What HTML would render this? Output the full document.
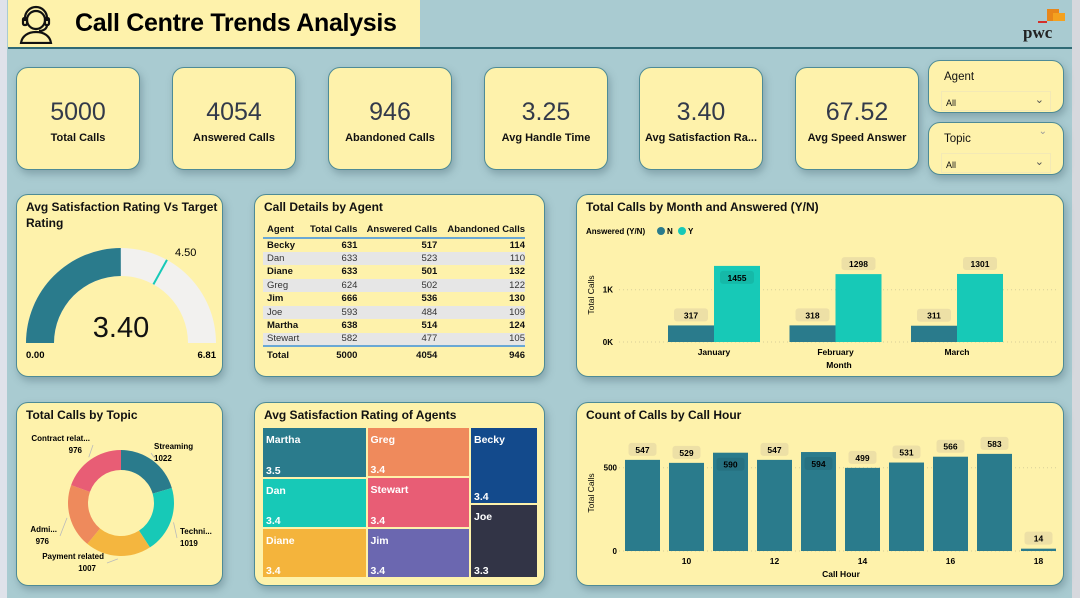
<!DOCTYPE html>
<html><head><meta charset="utf-8">
<style>
*{box-sizing:border-box;margin:0;padding:0}
body{width:1080px;height:598px;background:#a9cbd1;font-family:"Liberation Sans",sans-serif;position:relative;overflow:hidden;color:#111}
.abs{position:absolute}
.card{position:absolute;background:#fef2ab;border:1px solid #4e8b96;border-radius:12px;box-shadow:2px 4px 8px rgba(60,90,100,.35)}
.kpi .v{position:absolute;left:0;right:0;top:30px;text-align:center;font-size:25px;color:#333a4a}
.kpi .l{position:absolute;left:0;right:0;top:64px;text-align:center;font-size:11px;font-weight:bold;color:#111;white-space:nowrap}
.ct{position:absolute;left:9px;top:5px;font-size:12px;font-weight:bold;color:#111;white-space:nowrap}
svg text{font-family:"Liberation Sans",sans-serif}
table{border-collapse:collapse;font-size:9.5px}
</style></head><body>
<div class="abs" style="left:0;top:0;width:7px;height:598px;background:#dfe2ea"></div>
<div class="abs" style="left:1072px;top:0;width:8px;height:598px;background:#d6d8dd"></div>
<div class="abs" style="left:8px;top:0;width:412px;height:47px;background:#fef2ab">
<svg class="abs" style="left:8px;top:4px" width="40" height="40" viewBox="0 0 40 40" fill="none" stroke="#111" stroke-width="2.2"><circle cx="20" cy="16" r="9"/><path d="M9 17v-3a11 11 0 0 1 22 0v3"/><rect x="7" y="14" width="4" height="7" rx="1.5"/><rect x="29" y="14" width="4" height="7" rx="1.5"/><path d="M31 21c0 4-4 6-8 6"/><path d="M5 39c1-7 7-11 15-11s14 4 15 11z"/></svg>
<div class="abs" style="left:67px;top:9px;font-size:25px;font-weight:bold;color:#000;white-space:nowrap;letter-spacing:-0.3px">Call Centre Trends Analysis</div>
</div>
<div class="abs" style="left:8px;top:47px;width:1064px;height:2px;background:#2f6a75"></div>
<div class="abs" style="left:1020px;top:4px;width:50px;height:40px">
<div class="abs" style="left:27px;top:5px;width:12px;height:12px;background:#e8861a"></div>
<div class="abs" style="left:33px;top:9px;width:12px;height:8px;background:#f4a11f"></div>
<div class="abs" style="left:18px;top:17px;width:9px;height:2px;background:#d4302a"></div>
<div class="abs" style="left:3px;top:19px;font-family:'Liberation Serif',serif;font-weight:bold;font-size:17px;color:#222">pwc</div>
</div>

<div class="card kpi" style="left:16px;top:67px;width:124px;height:103px"><div class="v">5000</div><div class="l">Total Calls</div></div>
<div class="card kpi" style="left:172px;top:67px;width:124px;height:103px"><div class="v">4054</div><div class="l">Answered Calls</div></div>
<div class="card kpi" style="left:328px;top:67px;width:124px;height:103px"><div class="v">946</div><div class="l">Abandoned Calls</div></div>
<div class="card kpi" style="left:484px;top:67px;width:124px;height:103px"><div class="v">3.25</div><div class="l">Avg Handle Time</div></div>
<div class="card kpi" style="left:639px;top:67px;width:124px;height:103px"><div class="v">3.40</div><div class="l">Avg Satisfaction Ra...</div></div>
<div class="card kpi" style="left:795px;top:67px;width:124px;height:103px"><div class="v">67.52</div><div class="l">Avg Speed Answer</div></div>

<div class="card" style="left:928px;top:60px;width:136px;height:53px">
<div class="abs" style="left:15px;top:10px;font-size:11.5px">Agent</div>
<div class="abs" style="left:12px;top:30px;width:110px;height:20px;border:1px solid #f3e9b5;font-size:9px;padding:6px 4px">All<span class="abs" style="right:6px;top:1px;font-size:11px;color:#555">&#8964;</span></div>
</div>
<div class="card" style="left:928px;top:122px;width:136px;height:53px">
<div class="abs" style="left:15px;top:10px;font-size:11.5px">Topic</div>
<div class="abs" style="right:16px;top:3px;font-size:10px;color:#999">&#8964;</div>
<div class="abs" style="left:12px;top:30px;width:110px;height:20px;border:1px solid #f3e9b5;font-size:9px;padding:6px 4px">All<span class="abs" style="right:6px;top:1px;font-size:11px;color:#555">&#8964;</span></div>
</div>

<!-- Gauge -->
<div class="card" style="left:16px;top:194px;width:207px;height:183px">
<div class="ct" style="line-height:16px;top:4px">Avg Satisfaction Rating Vs Target<br>Rating</div>
<svg class="abs" style="left:0;top:0" width="207" height="183" id="gauge"></svg>
</div>

<!-- Table -->
<div class="card" style="left:254px;top:194px;width:291px;height:183px">
<div class="ct">Call Details by Agent</div>
<table class="abs" style="left:8px;top:26px;width:262px">
<thead><tr style="font-weight:bold;height:17px;border-bottom:2px solid #6aa8d4"><td style="padding-left:4px">Agent</td><td style="text-align:right">Total Calls</td><td style="text-align:right">Answered Calls</td><td style="text-align:right">Abandoned Calls</td></tr></thead>
<tbody id="tbody"></tbody>
<tfoot><tr style="font-weight:bold;height:17px;border-top:2px solid #6aa8d4"><td style="padding-left:4px">Total</td><td style="text-align:right">5000</td><td style="text-align:right">4054</td><td style="text-align:right">946</td></tr></tfoot>
</table>
</div>

<!-- Month chart -->
<div class="card" style="left:576px;top:194px;width:488px;height:183px">
<div class="ct">Total Calls by Month and Answered (Y/N)</div>
<svg class="abs" style="left:0;top:0" width="488" height="183" id="month"></svg>
</div>

<!-- Donut -->
<div class="card" style="left:16px;top:402px;width:207px;height:184px">
<div class="ct">Total Calls by Topic</div>
<svg class="abs" style="left:0;top:0" width="207" height="184" id="donut"></svg>
</div>

<!-- Treemap -->
<div class="card" style="left:254px;top:402px;width:291px;height:184px">
<div class="ct">Avg Satisfaction Rating of Agents</div>
<div class="abs" id="tree" style="left:8px;top:25px;width:276px;height:151px"></div>
</div>

<!-- Hour chart -->
<div class="card" style="left:576px;top:402px;width:488px;height:184px">
<div class="ct">Count of Calls by Call Hour</div>
<svg class="abs" style="left:0;top:0" width="488" height="184" id="hour"></svg>
</div>

<script>
const NS='http://www.w3.org/2000/svg';
function mk(p,tag,a,txt){const e=document.createElementNS(NS,tag);for(const k in a)e.setAttribute(k,a[k]);if(txt!==undefined)e.textContent=txt;p.appendChild(e);return e;}

// Gauge data
const gaugeValue=3.40, gaugeMin=0, gaugeMax=6.81, gaugeTarget=4.50;
(function(){
const s=document.getElementById('gauge');const cx=104,cy=148,R=95,r=67;
function pt(f,rad){const a=Math.PI*(1-f);return [cx+rad*Math.cos(a),cy-rad*Math.sin(a)];}
function arc(f0,f1,col,name){const[a,b]=pt(f0,R),[c,d]=pt(f1,R),[e,f]=pt(f1,r),[g,h]=pt(f0,r);
const p=mk(s,'path',{d:`M${a},${b} A${R},${R} 0 0 1 ${c},${d} L${e},${f} A${r},${r} 0 0 0 ${g},${h}Z`,fill:col});
}
arc(0,1,'#f2f1ef','gauge-track');
arc(0,(gaugeValue-gaugeMin)/(gaugeMax-gaugeMin),'#2a7b8c','gauge-fill');
const tf=(gaugeTarget-gaugeMin)/(gaugeMax-gaugeMin);const[x1,y1]=pt(tf,r),[x2,y2]=pt(tf,R);
const tl=mk(s,'line',{x1,y1,x2,y2,stroke:'#17c9b7','stroke-width':2});

mk(s,'text',{x:x2+8,y:y2-4,'font-size':11},gaugeTarget.toFixed(2));
mk(s,'text',{x:cx,y:cy-6,'text-anchor':'middle','font-size':29,fill:'#111'},gaugeValue.toFixed(2));
mk(s,'text',{x:9,y:cy+15,'font-size':9.5,'font-weight':'bold'},gaugeMin.toFixed(2));
mk(s,'text',{x:199,y:cy+15,'font-size':9.5,'font-weight':'bold','text-anchor':'end'},gaugeMax.toFixed(2));
})();

// Table data
const agents=['Becky','Dan','Diane','Greg','Jim','Joe','Martha','Stewart'];
const agentTotal=[631,633,633,624,666,593,638,582];
const agentAnswered=[517,523,501,502,536,484,514,477];
const agentAbandoned=[114,110,132,122,130,109,124,105];
(function(){const tb=document.getElementById('tbody');
agents.forEach((a,i)=>{const tr=document.createElement('tr');


tr.style.height='13.5px';tr.style.background=i%2?'#e6e6e6':'transparent';tr.style.fontWeight=i%2?'normal':'bold';tr.style.color=i%2?'#333':'#111';
tr.innerHTML=`<td style="padding-left:4px">${a}</td><td style="text-align:right">${agentTotal[i]}</td><td style="text-align:right">${agentAnswered[i]}</td><td style="text-align:right">${agentAbandoned[i]}</td>`;
tb.appendChild(tr);});})();

// Month chart data
const months=['January','February','March'];
const monthN=[317,318,311];
const monthY=[1455,1298,1301];
const monthTicks=[0,1000];const monthTickLabels=['0K','1K'];
(function(){const s=document.getElementById('month');
const y0=147,k=52.3/1000;const Y=v=>y0-v*k;const X=i=>91+i*121.5;const bw=46;
mk(s,'text',{x:9,y:39,'font-size':8,'font-weight':'bold'},'Answered (Y/N)');
mk(s,'circle',{cx:84,cy:36,r:4,fill:'#2a7b8c'});mk(s,'text',{x:90,y:39,'font-size':8,'font-weight':'bold'},'N');
mk(s,'circle',{cx:105,cy:36,r:4,fill:'#17c9b7'});mk(s,'text',{x:111,y:39,'font-size':8,'font-weight':'bold'},'Y');
monthTicks.forEach((t,i)=>{mk(s,'line',{x1:42,x2:480,y1:Y(t),y2:Y(t),stroke:'#d8cf9a','stroke-dasharray':'1 3'});
mk(s,'text',{x:36,y:Y(t)+3,'text-anchor':'end','font-size':8,'font-weight':'bold'},monthTickLabels[i]);});
mk(s,'text',{x:0,y:0,'font-size':8.5,'text-anchor':'middle',transform:`translate(17,${y0-47}) rotate(-90)`},'Total Calls');
function lab(cx,val,top,inside){const ty=inside?top+13:top-9;
mk(s,'rect',{x:cx-17,y:ty-8,width:34,height:13,rx:3,fill:inside?'rgba(0,0,0,0.08)':'#ede0a6'});
mk(s,'text',{x:cx,y:ty+2,'text-anchor':'middle','font-size':8.5,'font-weight':'bold'},val);}
months.forEach((m,i)=>{
const b1=mk(s,'rect',{x:X(i),y:Y(monthN[i]),width:bw,height:monthN[i]*k,fill:'#2a7b8c'});

const b2=mk(s,'rect',{x:X(i)+bw,y:Y(monthY[i]),width:bw,height:monthY[i]*k,fill:'#17c9b7'});

lab(X(i)+bw/2,monthN[i],Y(monthN[i]),false);
const tY=Y(monthY[i]);lab(X(i)+bw*1.5,monthY[i],tY,tY-17<58);
mk(s,'text',{x:X(i)+bw,y:y0+13,'text-anchor':'middle','font-size':8.5,'font-weight':'bold'},m);});
mk(s,'text',{x:262,y:y0+26,'text-anchor':'middle','font-size':8.5,'font-weight':'bold'},'Month');
})();

// Donut data
const topics=['Streaming','Technical Support','Payment related','Admin Support','Contract related'];
const topicLabels=['Streaming','Techni...','Payment related','Admi...','Contract relat...'];
const topicCalls=[1022,1019,1007,976,976];
const topicColors=['#2a7b8c','#17c9b7','#f4b63f','#ee8a5c','#e85d75'];
(function(){const s=document.getElementById('donut');const cx=104,cy=100,R=53,r=33;
const tot=topicCalls.reduce((a,b)=>a+b,0);let a0=0;
const labPos=[[137,46,'start'],[163,131,'start'],[87,156,'end'],[40,129,'end'],[73,38,'end']];
topicCalls.forEach((v,i)=>{const a1=a0+v/tot*2*Math.PI;
const p=(a,rad)=>[cx+rad*Math.sin(a),cy-rad*Math.cos(a)];
const[x1,y1]=p(a0,R),[x2,y2]=p(a1,R),[x3,y3]=p(a1,r),[x4,y4]=p(a0,r);
const sl=mk(s,'path',{d:`M${x1},${y1}A${R},${R} 0 0 1 ${x2},${y2}L${x3},${y3}A${r},${r} 0 0 0 ${x4},${y4}Z`,fill:topicColors[i]});

const mid=(a0+a1)/2;const[ex,ey]=p(mid,R+3);const[lx,ly]=[labPos[i][0],labPos[i][1]];
mk(s,'polyline',{points:`${ex},${ey} ${lx+(labPos[i][2]=='start'?-3:3)},${ly+4}`,stroke:'#bbb',fill:'none','stroke-width':0.8});
mk(s,'text',{x:lx,y:ly,'font-size':8,'font-weight':'bold','text-anchor':labPos[i][2]},topicLabels[i]);
mk(s,'text',{x:lx+(labPos[i][2]=='start'?0:-8),y:ly+12,'font-size':8,'font-weight':'bold','text-anchor':labPos[i][2]},v);
a0=a1;});
})();

// Treemap data
const treeAgents=['Martha','Dan','Diane','Greg','Stewart','Jim','Becky','Joe'];
const treeRatings=[3.5,3.4,3.4,3.4,3.4,3.4,3.4,3.3];
const treeColors=['#2a7b8c','#17c9b7','#f4b43c','#ef8a5c','#e85d75','#6b67b0','#134a8c','#323446'];
(function(){const t=document.getElementById('tree');
const tot=treeRatings.reduce((a,b)=>a+b,0);const W=276,H=151;
const cols=[[0,1,2],[3,4,5],[6,7]];let x=0;
cols.forEach(c=>{const cs=c.reduce((a,i)=>a+treeRatings[i],0);const w=W*cs/tot;let y=0;
c.forEach(i=>{const h=H*treeRatings[i]/cs;const d=document.createElement('div');


d.style.cssText=`position:absolute;left:${x}px;top:${y}px;width:${w-2}px;height:${h-2}px;background:${treeColors[i]};color:#fff;font-size:10.5px;font-weight:bold`;
d.innerHTML=`<span style="position:absolute;left:3px;top:6px">${treeAgents[i]}</span><span style="position:absolute;left:3px;bottom:0px">${treeRatings[i]}</span>`;
t.appendChild(d);y+=h;});x+=w;});
})();

// Hour chart data
const hours=[9,10,11,12,13,14,15,16,17,18];
const hourCalls=[547,529,590,547,594,499,531,566,583,14];
const hourTicks=[0,500];
(function(){const s=document.getElementById('hour');
const y0=148,k=83.3/500;const Y=v=>y0-v*k;const X=i=>48+i*44;const bw=35;
hourTicks.forEach(t=>{mk(s,'line',{x1:42,x2:480,y1:Y(t),y2:Y(t),stroke:'#d8cf9a','stroke-dasharray':'1 3'});
mk(s,'text',{x:40,y:Y(t)+3,'text-anchor':'end','font-size':8,'font-weight':'bold'},t);});
mk(s,'text',{x:0,y:0,'font-size':8.5,'text-anchor':'middle',transform:`translate(17,${y0-58}) rotate(-90)`},'Total Calls');
hours.forEach((h,i)=>{const top=Y(hourCalls[i]);
const b=mk(s,'rect',{x:X(i),y:top,width:bw,height:hourCalls[i]*k,fill:'#2a7b8c'});

const inside=top-17<33;const ty=inside?top+13:top-9;const cx=X(i)+bw/2;
mk(s,'rect',{x:cx-14,y:ty-8,width:28,height:13,rx:3,fill:inside?'rgba(0,0,0,0.08)':'#ede0a6'});
mk(s,'text',{x:cx,y:ty+2,'text-anchor':'middle','font-size':8.5,'font-weight':'bold'},hourCalls[i]);
if(h%2==0)mk(s,'text',{x:cx,y:y0+13,'text-anchor':'middle','font-size':8.5,'font-weight':'bold'},h);});
mk(s,'text',{x:264,y:y0+26,'text-anchor':'middle','font-size':8.5,'font-weight':'bold'},'Call Hour');
})();
</script>
</body></html>
